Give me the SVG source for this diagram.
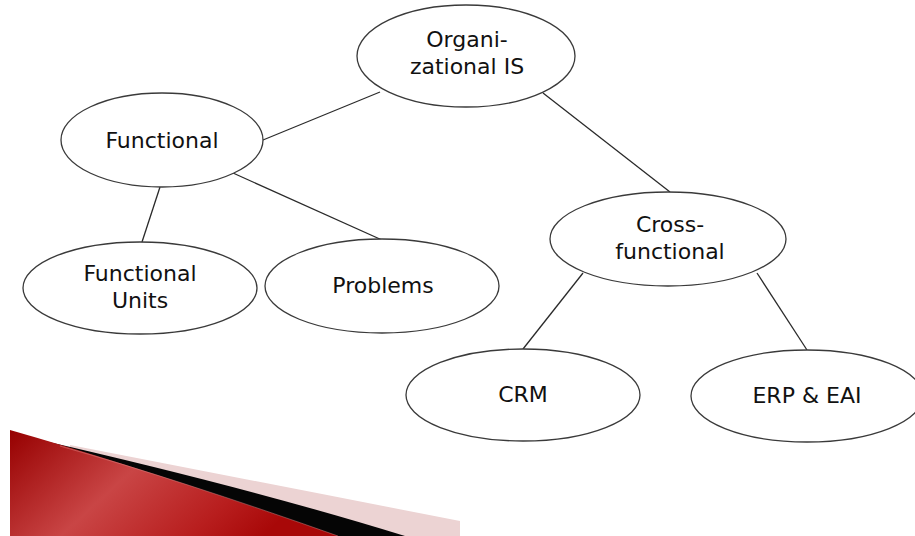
<svg xmlns="http://www.w3.org/2000/svg" width="915" height="536" viewBox="0 0 915 536">
  <style>
    .node ellipse { fill: #ffffff; stroke: #3a3a3a; stroke-width: 1.3; }
    .node text { font-family: "DejaVu Sans", "Liberation Sans", sans-serif; font-size: 22px; fill: #111111; text-anchor: middle; }
    .edges line { stroke: #2a2a2a; stroke-width: 1.3; }
  </style>
  <defs>
    <linearGradient id="ribbonRed" x1="0" y1="0" x2="1" y2="0.35">
      <stop offset="0" stop-color="#960000"/>
      <stop offset="0.45" stop-color="#c94545"/>
      <stop offset="0.8" stop-color="#b81e1e"/>
      <stop offset="1" stop-color="#a80808"/>
    </linearGradient>
  </defs>

  <rect width="915" height="536" fill="#ffffff"/>

  <!-- decorative corner ribbon -->
  <g id="ribbon">
    <path d="M 70 445 Q 260 482 460 521 L 460 536 L 70 536 Z" fill="#ecd3d3"/>
    <path d="M 40 440 Q 250 488 405 536 L 40 536 Z" fill="#050505"/>
    <path d="M 10 430 Q 150 470 338 536 L 10 536 Z" fill="url(#ribbonRed)"/>
    <path d="M 60 446 Q 180 480 338 536" fill="none" stroke="#e08a8a" stroke-width="0.8" opacity="0.6"/>
  </g>

  <!-- connectors -->
  <g class="edges" id="edges">
    <line x1="380" y1="92" x2="263" y2="140"/>
    <line x1="543" y1="93" x2="670" y2="192"/>
    <line x1="160" y1="187" x2="142" y2="242"/>
    <line x1="233" y1="173" x2="382" y2="240"/>
    <line x1="583" y1="273" x2="523" y2="349"/>
    <line x1="757" y1="273" x2="807" y2="350"/>
  </g>

  <g class="node" id="organizational-is">
    <ellipse cx="466" cy="56" rx="109" ry="51"/>
    <text x="467" y="47">Organi-</text>
    <text x="467" y="74">zational IS</text>
  </g>

  <g class="node" id="functional">
    <ellipse cx="162" cy="140" rx="101" ry="47"/>
    <text x="162" y="148">Functional</text>
  </g>

  <g class="node" id="functional-units">
    <ellipse cx="140" cy="288" rx="117" ry="46"/>
    <text x="140" y="281">Functional</text>
    <text x="140" y="308">Units</text>
  </g>

  <g class="node" id="problems">
    <ellipse cx="382" cy="286" rx="117" ry="47"/>
    <text x="383" y="293">Problems</text>
  </g>

  <g class="node" id="cross-functional">
    <ellipse cx="668" cy="239" rx="118" ry="47"/>
    <text x="670" y="232">Cross-</text>
    <text x="670" y="259">functional</text>
  </g>

  <g class="node" id="crm">
    <ellipse cx="523" cy="395" rx="117" ry="46"/>
    <text x="523" y="402">CRM</text>
  </g>

  <g class="node" id="erp-eai">
    <ellipse cx="807" cy="396" rx="116" ry="46"/>
    <text x="807" y="403">ERP &amp; EAI</text>
  </g>
</svg>
